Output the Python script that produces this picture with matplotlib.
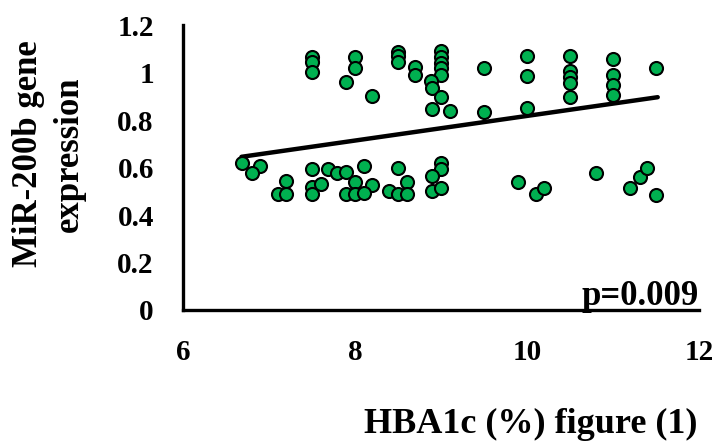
import matplotlib
matplotlib.use("Agg")
import matplotlib.pyplot as plt

# HBA1c (%) values and MiR-200b expression values
hba1c = [7.5, 7.5, 7.5, 8.0, 8.0, 7.9, 8.2, 8.5, 8.5, 8.5, 8.7, 8.7,
         9.0, 9.0, 9.0, 9.0, 9.0, 8.88, 8.89, 9.0, 8.89, 9.1,
         9.5, 9.5, 10.0, 10.0, 10.0, 10.5, 10.5, 10.5, 10.5, 10.5,
         11.0, 11.0, 11.0, 11.0, 11.5,
         9.9, 10.1, 10.2, 10.8, 11.2, 11.31, 11.4, 11.5,
         6.69, 6.9, 6.8, 7.2, 7.1, 7.2, 7.5, 7.5, 7.5, 7.6, 7.69, 7.79,
         7.9, 8.0, 8.1, 8.2, 7.9, 8.0, 8.1, 8.4, 8.5, 8.6, 8.5, 8.6,
         9.0, 9.0, 8.89, 8.89, 9.0]
mir200b = [1.064, 1.045, 1.003, 1.064, 1.02, 0.961, 0.902, 1.088, 1.069, 1.045, 1.024, 0.989,
           1.092, 1.067, 1.04, 1.018, 0.989, 0.965, 0.933, 0.898, 0.846, 0.838,
           1.018, 0.835, 1.069, 0.985, 0.849, 1.069, 1.008, 0.982, 0.957, 0.898,
           1.055, 0.989, 0.947, 0.905, 1.018,
           0.540, 0.487, 0.512, 0.575, 0.512, 0.561, 0.597, 0.484,
           0.618, 0.608, 0.576, 0.545, 0.487, 0.487, 0.594, 0.519, 0.487, 0.531, 0.594, 0.576,
           0.580, 0.540, 0.606, 0.526, 0.487, 0.487, 0.491, 0.502, 0.597, 0.540, 0.487, 0.487,
           0.618, 0.592, 0.564, 0.502, 0.512]

# linear trend line end points
trend_x = [6.68, 11.52]
trend_y = [0.645, 0.896]

x_ticks = [6, 8, 10, 12]
y_ticks = [0, 0.2, 0.4, 0.6, 0.8, 1.0, 1.2]
y_tick_labels = ["0", "0.2", "0.4", "0.6", "0.8", "1", "1.2"]

plt.rcParams['font.family'] = ['Liberation Serif', 'DejaVu Serif']
plt.rcParams['font.weight'] = 'bold'

fig = plt.figure(figsize=(7.18, 4.48), dpi=100)
ax = fig.add_axes([183/718, 1-310/448, (699-183)/718, (310-25)/448])

ax.scatter(hba1c, mir200b, s=88, c='#00B050', edgecolors='black', linewidths=1.5, zorder=3)
ax.plot(trend_x, trend_y, color='black', lw=3.2, solid_capstyle='round', zorder=2)

ax.set_xlim(6, 12)
ax.set_ylim(0, 1.2)
ax.set_xticks(x_ticks)
ax.set_xticklabels([str(t) for t in x_ticks])
ax.set_yticks(y_ticks)
ax.set_yticklabels(y_tick_labels)
ax.tick_params(axis='both', length=0, labelsize=21)
ax.tick_params(axis='x', pad=21)
ax.tick_params(axis='y', pad=21)
for lab in ax.get_xticklabels() + ax.get_yticklabels():
    lab.set_fontweight('bold')

for s in ['top', 'right']:
    ax.spines[s].set_visible(False)
for s in ['left', 'bottom']:
    ax.spines[s].set_linewidth(2.4)

ax.text(1.0, (310-305)/285, "p=0.009", transform=ax.transAxes, ha='right', va='baseline',
        fontsize=25, fontweight='bold')

fig.text(49/718, 1-154/448, "MiR-200b gene\nexpression", rotation=90, ha='center', va='center',
         fontsize=25, fontweight='bold', linespacing=1.3)
fig.text(698/718, 1-433/448, "HBA1c (%) figure (1)", ha='right', va='baseline',
         fontsize=26, fontweight='bold')

fig.savefig("out.png", dpi=100)
